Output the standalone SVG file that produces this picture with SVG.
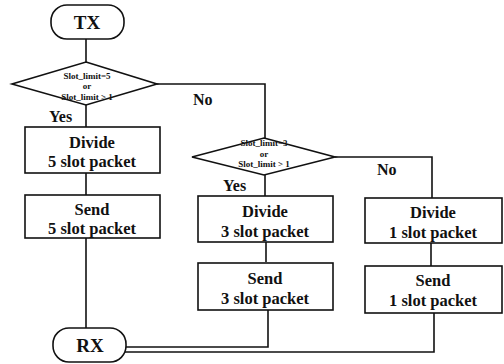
<svg xmlns="http://www.w3.org/2000/svg" width="504" height="364" viewBox="0 0 504 364">
<style>
.s{fill:#fff;stroke:#111;stroke-width:1.6}
.c{fill:none;stroke:#111;stroke-width:1.6}
text{font-family:"Liberation Serif","Times New Roman",serif;font-weight:bold;fill:#111;text-anchor:middle}
.b{font-size:16.5px}
.t{font-size:19px}
.d{font-size:9px}
.l{font-size:16px;text-anchor:start}
</style>
<rect width="504" height="364" fill="#fff"/>
<g id="connectors">
<path class="c" d="M86 39V62"/>
<path class="c" d="M86 105V127"/>
<path class="c" d="M157 84H265V138"/>
<path class="c" d="M86 173V195"/>
<path class="c" d="M86 238V328"/>
<path class="c" d="M265 175V196"/>
<path class="c" d="M335 157H432V198"/>
<path class="c" d="M266 242V262"/>
<path class="c" d="M431 243V266"/>
<path class="c" d="M268 310V347H125"/>
<path class="c" d="M434 313V352H124"/>
</g>
<g id="tx"><rect class="s" x="51" y="5" width="73" height="34" rx="16"/><text class="t" x="87" y="29">TX</text></g>
<g id="d1"><polygon class="s" points="86,62 157,84 86,105 12,84"/>
<text class="d" x="87" y="79">Slot_limit=5</text><text class="d" x="87" y="89">or</text><text class="d" x="87" y="100">Slot_limit &gt; 1</text></g>
<g id="yes1"><text class="l" x="49" y="122">Yes</text></g>
<g id="no1"><text class="l" x="193" y="105">No</text></g>
<g id="div5"><rect class="s" x="25" y="127" width="135" height="46"/><text class="b" x="92" y="148">Divide</text><text class="b" x="92" y="167">5 slot packet</text></g>
<g id="send5"><rect class="s" x="25" y="195" width="135" height="43"/><text class="b" x="92" y="215">Send</text><text class="b" x="92" y="234">5 slot packet</text></g>
<g id="d2"><polygon class="s" points="264,138 335,157 264,175 192,157"/>
<text class="d" x="264" y="146">Slot_limit=3</text><text class="d" x="264" y="157">or</text><text class="d" x="264" y="167">Slot_limit &gt; 1</text></g>
<g id="yes2"><text class="l" x="223" y="191">Yes</text></g>
<g id="no2"><text class="l" x="377" y="175">No</text></g>
<g id="div3"><rect class="s" x="198" y="196" width="135" height="46"/><text class="b" x="265" y="217">Divide</text><text class="b" x="265" y="237">3 slot packet</text></g>
<g id="send3"><rect class="s" x="198" y="263" width="135" height="47"/><text class="b" x="265" y="284">Send</text><text class="b" x="265" y="304">3 slot packet</text></g>
<g id="div1"><rect class="s" x="365" y="198" width="137" height="45"/><text class="b" x="433" y="218">Divide</text><text class="b" x="433" y="238">1 slot packet</text></g>
<g id="send1"><rect class="s" x="365" y="266" width="137" height="47"/><text class="b" x="433" y="286">Send</text><text class="b" x="433" y="306">1 slot packet</text></g>
<g id="rx"><rect class="s" x="53" y="328" width="73" height="34" rx="16"/><text class="t" x="90" y="352">RX</text></g>
</svg>
